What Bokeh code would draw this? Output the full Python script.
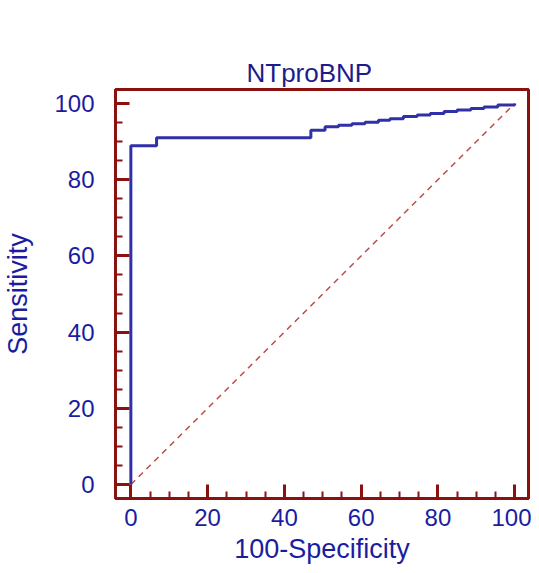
from bokeh.plotting import figure
from bokeh.embed import file_html
from bokeh.resources import INLINE
from bokeh.models import Range1d, FixedTicker, Title

# ROC curve corner points (100-Specificity, Sensitivity)
fpr = [0, 0, 6.7, 46.9, 50.6, 54.1, 57.6, 61.0, 64.5, 67.5, 71.0, 74.6, 78.0, 81.6, 85.0, 88.6, 92.0, 95.6, 100]
tpr = [0, 88.9, 91.0, 93.0, 93.9, 94.3, 94.7, 95.1, 95.6, 96.0, 96.6, 97.0, 97.4, 97.9, 98.3, 98.7, 99.1, 99.6, 100]
diag_x = [0, 100]
diag_y = [0, 100]
ticks = [0, 20, 40, 60, 80, 100]
minor = list(range(0, 101, 5))

FRAME = "#8B1010"
TXT = "#1C1CA0"
CURVE = "#3030A8"

p = figure(width=531, height=572, output_backend="svg", toolbar_location=None, title=None,
           x_range=Range1d(-4, 103.6), y_range=Range1d(-3.7, 103.7),
           min_border_left=113, min_border_right=3, min_border_top=89, min_border_bottom=74)

# invisible spacer next to the frame, then the real title outside it
spacer = Title(text=" ", text_font_size="1px", text_alpha=0, standoff=41)
p.add_layout(spacer, "above")
t = Title(text="NTproBNP", align="left", offset=131, vertical_align="top",
          text_font="Liberation Sans", text_font_size="26px", text_font_style="normal",
          text_color="#1C1C8C", standoff=0)
p.add_layout(t, "above")

p.outline_line_color = FRAME
p.outline_line_width = 3
p.outline_line_alpha = 1
p.xgrid.visible = False
p.ygrid.visible = False
p.background_fill_color = "white"
p.border_fill_color = "white"

for ax in (p.xaxis[0], p.yaxis[0]):
    ax.ticker = FixedTicker(ticks=ticks, minor_ticks=minor)
    ax.axis_line_color = FRAME
    ax.axis_line_width = 3
    ax.major_tick_line_color = FRAME
    ax.major_tick_line_width = 3
    ax.minor_tick_line_color = FRAME
    ax.minor_tick_line_width = 2
    ax.major_tick_in = 14
    ax.major_tick_out = 0
    ax.minor_tick_in = 7
    ax.minor_tick_out = 0
    ax.major_label_text_color = TXT
    ax.major_label_text_font = "Liberation Sans"
    ax.major_label_text_font_size = "24px"
    ax.axis_label_text_color = TXT
    ax.axis_label_text_font = "Liberation Sans"
    ax.axis_label_text_font_size = "27px"
    ax.axis_label_text_font_style = "normal"

p.xaxis.axis_label = "100-Specificity"
p.yaxis.axis_label = "Sensitivity"
p.xaxis.major_label_standoff = 10
p.yaxis.major_label_standoff = 21
p.xaxis.axis_label_standoff = 5
p.yaxis.axis_label_standoff = 18

p.line(diag_x, diag_y, line_color="#C04848", line_width=1.5, line_dash="6 5")
p.step(fpr, tpr, mode="after", line_color=CURVE, line_width=3)

open("out.html", "w").write(file_html(p, INLINE))
